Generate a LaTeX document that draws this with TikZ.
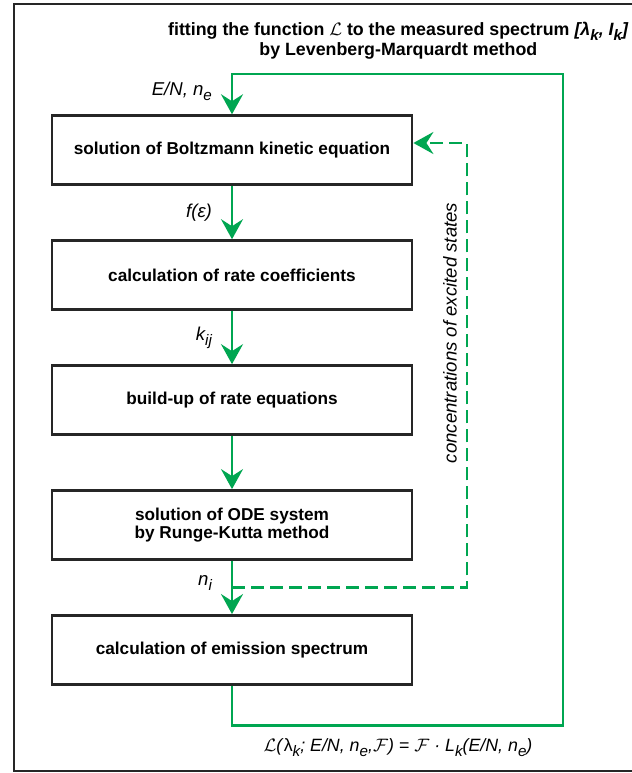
\documentclass[tikz,border=0pt]{standalone}
\usepackage{fontspec}
\setmainfont{Liberation Sans}
\usepackage{amsmath}
\usetikzlibrary{positioning, arrows.meta, calc}

\definecolor{flowgreen}{RGB}{0,166,81}

% lowered subscript as in the figure
\newcommand{\lowsub}[1]{\raisebox{-0.5ex}{\fontsize{7.6}{8}\selectfont #1}}

\tikzset{
  stepbox/.style={draw=black!85, line width=1.3pt, minimum width=6.33cm,
    minimum height=1.21cm, align=center, inner sep=2pt,
    font=\fontsize{8.6}{9.2}\selectfont\bfseries},
  flow/.style={draw=flowgreen, line width=1.3pt,
    -{Stealth[length=10pt, width=11pt, inset=3.5pt]}},
  feedback/.style={flow, dash pattern=on 6.5pt off 3pt},
  lbl/.style={font=\fontsize{9.3}{10}\selectfont\itshape, inner sep=0pt},
  frameline/.style={draw=black!85, line width=1pt}
}

\begin{document}
\begin{tikzpicture}

  \useasboundingbox (0,0) rectangle (11.089,13.584);

  % outer frame (right side runs off the page)
  \draw[frameline] (11.3,13.514) -- (0.246,13.514) -- (0.246,0.035) -- (11.3,0.035);

  % Title
  \node[font=\fontsize{8.9}{8.7}\selectfont\bfseries, align=center] (title) at (7.0,12.872)
    {fitting the function $\mathcal{L}$ to the measured spectrum \textit{[λ\lowsub{k}, I\lowsub{k}]}\\
     by Levenberg-Marquardt method};

  % Steps
  \node[stepbox] (b1) at (4.077,10.948) {solution of Boltzmann kinetic equation};
  \node[stepbox, below=0.94cm of b1] (b2) {calculation of rate coefficients};
  \node[stepbox, below=0.94cm of b2] (b3) {build-up of rate equations};
  \node[stepbox, below=0.94cm of b3] (b4) {solution of ODE system\\ by Runge-Kutta method};
  \node[stepbox, below=0.94cm of b4] (b5) {calculation of emission spectrum};

  % Forward arrows
  \draw[flow] (b1) -- node[lbl, left=0.33cm] {f(ε)} (b2);
  \draw[flow] (b2) -- node[lbl, left=0.33cm] {k\lowsub{ij}} (b3);
  \draw[flow] (b3) -- (b4);
  \draw[flow] (b4) -- node[lbl, left=0.33cm, yshift=2pt] {n\lowsub{i}} (b5);

  % Fitting loop
  \coordinate (loopbottom) at ($(b5.south)+(0,-0.703)$);
  \coordinate (looptop) at (9.894,12.283);
  \draw[flow] (b5.south) -- (loopbottom) -| (looptop)
    -| node[lbl, pos=0.72, left=0.33cm] {E/N, n\lowsub{e}} (b1.north);

  % Feedback of concentrations
  \coordinate (ni) at ($(b4.south)!0.5!(b5.north)$);
  \coordinate (fbcorner) at (8.206,11.071);
  \draw[feedback] (ni) -| (fbcorner) -- (fbcorner -| b1.east);
  \node[lbl, rotate=90] (conc) at (7.908,7.732) {concentrations of excited states};

  % Model function
  \node[font=\fontsize{8.9}{10}\selectfont\itshape] (model) at (6.994,0.44)
    {$\mathcal{L}$(\textup{λ}\lowsub{k}; E/N, n\lowsub{e},$\mathcal{F}$) = $\mathcal{F}$ · L\lowsub{k}(E/N, n\lowsub{e})};

\end{tikzpicture}
\end{document}
